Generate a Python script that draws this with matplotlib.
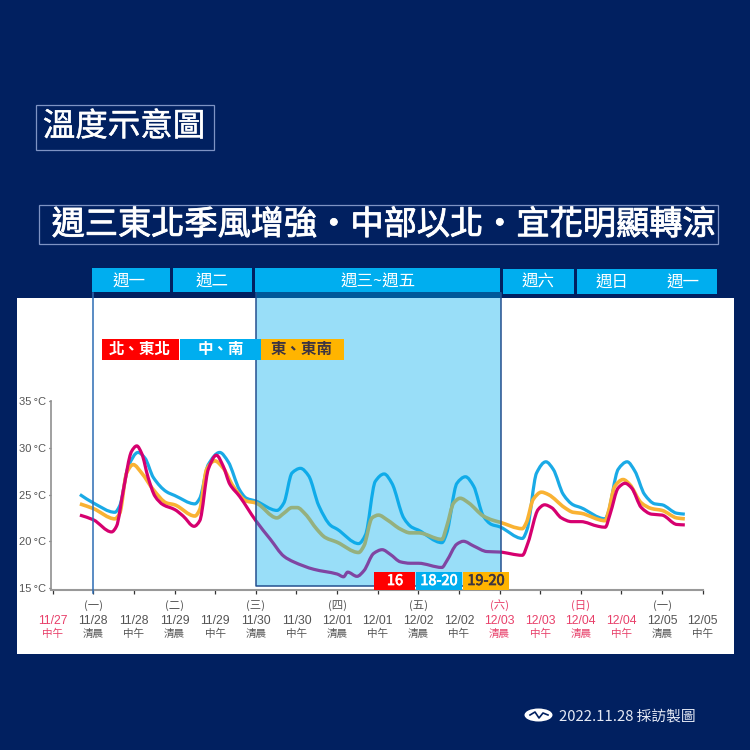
import matplotlib
matplotlib.use("Agg")
import matplotlib.pyplot as plt
import matplotlib.patheffects as pe
from matplotlib.patches import Rectangle, Ellipse, PathPatch
from matplotlib.path import Path

CJK = ['Noto Sans CJK TC', 'DejaVu Sans']
NARROW = ['Liberation Sans Narrow', 'Liberation Sans', 'Noto Sans CJK TC']
plt.rcParams['font.family'] = CJK

# tick labels
tick_days = ['11/27', '11/28', '11/28', '11/29', '11/29', '11/30', '11/30', '12/01', '12/01',
             '12/02', '12/02', '12/03', '12/03', '12/04', '12/04', '12/05', '12/05']
tick_times = ['中午', '清晨', '中午', '清晨', '中午', '清晨', '中午', '清晨', '中午',
              '清晨', '中午', '清晨', '中午', '清晨', '中午', '清晨', '中午']
weekdays = {1: '(一)', 3: '(二)', 5: '(三)', 7: '(四)', 9: '(五)', 11: '(六)', 13: '(日)', 15: '(一)'}
red_ticks = [0, 11, 12, 13, 14]
y_ticks = [15, 20, 25, 30, 35]

# central / south
mid_x = [0.67, 1, 1.53, 1.65, 1.86, 2.1, 2.27, 2.48, 2.8, 3, 3.5, 3.62, 3.83, 4.11, 4.32, 4.6, 4.77, 5,
         5.52, 5.69, 5.89, 6.1, 6.3, 6.55, 6.84, 7, 7.53, 7.7, 7.94, 8.16, 8.35, 8.64, 8.84, 9,
         9.58, 9.7, 9.95, 10.16, 10.36, 10.6, 10.8, 11, 11.56, 11.68, 11.91, 12.14, 12.32, 12.57,
         12.81, 13, 13.6, 13.67, 13.92, 14.14, 14.33, 14.57, 14.82, 15, 15.36, 15.56]
mid_t = [25, 24.1, 23.1, 23.8, 28, 29.5, 28.9, 26.8, 25.3, 24.9, 24, 24.6, 28.2, 29.5, 28.5, 25.5, 24.6, 24.3,
         23.3, 24.1, 27.3, 27.8, 27, 23.8, 21.7, 21.3, 19.75, 20.7, 26.4, 27.2, 26.2, 22.5, 21.5, 21.2,
         19.85, 20.9, 26.2, 26.9, 25.9, 22.7, 21.8, 21.55, 20.3, 21.3, 27.3, 28.5, 27.7, 25,
         23.9, 23.6, 22.4, 23, 27.7, 28.5, 27.5, 25, 24, 23.9, 23, 22.9]

# east / southeast
east_x = [0.67, 1, 1.53, 1.65, 1.82, 1.98, 2.19, 2.48, 2.8, 3, 3.5, 3.62, 3.79, 3.99, 4.2, 4.44, 4.77, 5,
          5.52, 5.69, 5.89, 6.02, 6.22, 6.5, 6.71, 7, 7.53, 7.66, 7.86, 8.02, 8.23, 8.56, 8.8, 9,
          9.58, 9.7, 9.87, 10.03, 10.24, 10.6, 10.8, 11, 11.56, 11.66, 11.83, 12.03, 12.2, 12.6,
          12.81, 13, 13.6, 13.67, 13.84, 14.04, 14.2, 14.49, 14.74, 15, 15.36, 15.56]
east_t = [24, 23.5, 22.4, 23, 27.3, 28.2, 27.3, 25.5, 24.1, 23.9, 22.7, 23.4, 27.7, 28.6, 27.8, 25.9, 24.3, 24.1,
          22.5, 23, 23.6, 23.6, 22.9, 21.3, 20.4, 19.9, 18.8, 19.5, 22.5, 22.8, 22.3, 21.3, 20.9, 20.9,
          20.2, 21.6, 24.1, 24.6, 24.1, 22.7, 22.3, 22.05, 21.35, 22, 24.5, 25.25, 25, 23.6,
          23.1, 23, 22.2, 23, 25.9, 26.6, 26.1, 24.1, 23.5, 23.3, 22.5, 22.4]

# north / northeast
north_x = [0.67, 1, 1.45, 1.57, 1.74, 1.94, 2.07, 2.19, 2.35, 2.52, 2.72, 3, 3.21, 3.48, 3.62, 3.83, 4.03, 4.2,
           4.36, 4.6, 5, 5.36, 5.69, 5.93, 6.43, 7, 7.16, 7.26, 7.49, 7.66, 7.9, 8.11, 8.31, 8.56, 8.8, 9,
           9.58, 9.7, 9.95, 10.11, 10.36, 10.69, 11, 11.56, 11.7, 11.95, 12.11, 12.28, 12.52, 12.77, 13,
           13.43, 13.6, 13.72, 13.92, 14.09, 14.25, 14.49, 14.74, 15, 15.36, 15.56]
north_t = [22.8, 22.3, 21, 21.6, 25.5, 29.6, 30.2, 29.4, 26.8, 24.8, 23.9, 23.4, 22.7, 21.6, 22.2, 27.7, 29.2, 28,
           26.1, 24.8, 22.2, 20.2, 18.4, 17.8, 17, 16.5, 16.2, 16.7, 16.25, 16.85, 18.7, 19.1, 18.6, 17.8, 17.65, 17.65,
           17.2, 17.9, 19.7, 20, 19.5, 18.9, 18.85, 18.5, 19.85, 23.4, 23.9, 23.6, 22.5, 22.1, 22.1,
           21.6, 21.5, 22.9, 25.7, 26.2, 25.7, 23.6, 22.9, 22.8, 21.8, 21.75]

NAVY = '#012060'
BLUE = '#00AEEF'
CURVE_BLUE = '#1AAAE6'
YELLOW = '#F9B233'
MAGENTA = '#D6006F'
RED = '#FF0000'
CHIP_YELLOW = '#FFB400'
GREY = '#555555'
PINK = '#E8406A'

fig = plt.figure(figsize=(7.5, 7.5), dpi=100, facecolor=NAVY)


def px(x, y):
    return x / 750, 1 - y / 750


def box(x0, y0, x1, y1, color, edge='none', lw=0, z=3):
    fig.add_artist(Rectangle(px(x0, y1), (x1 - x0) / 750, (y1 - y0) / 750, transform=fig.transFigure,
                             facecolor=color, edgecolor=edge, linewidth=lw, zorder=z))


def label(x, y, s, size, color='white', weight='normal', family=CJK, ha='center', stroke=0):
    t = fig.text(*px(x, y), s, fontsize=size * 0.72, color=color, fontweight=weight, family=family,
                 ha=ha, va='center', zorder=6)
    if stroke:
        t.set_path_effects([pe.withStroke(linewidth=stroke, foreground=color)])


def curve(x, y):
    # bezier through the read points, flat at local peaks and troughs
    slopes = [(y[i + 1] - y[i]) / (x[i + 1] - x[i]) for i in range(len(x) - 1)]
    m = [slopes[0]]
    for a, b in zip(slopes[:-1], slopes[1:]):
        m.append(0 if a * b <= 0 else 2 * a * b / (a + b))
    m.append(slopes[-1])
    verts = [(x[0], y[0])]
    codes = [Path.MOVETO]
    for i in range(len(x) - 1):
        d = (x[i + 1] - x[i]) / 3
        verts += [(x[i] + d, y[i] + m[i] * d), (x[i + 1] - d, y[i + 1] - m[i + 1] * d), (x[i + 1], y[i + 1])]
        codes += [Path.CURVE4] * 3
    return Path(verts, codes)


# white panel
box(17, 298, 734, 654, 'white', z=-1)

ax = fig.add_axes([50.67 / 750, 1 - 590 / 750, (702.7 - 50.67) / 750, (590 - 401) / 750])
ax.patch.set_visible(False)
ax.set_xlim(-0.05, 16)
ax.set_ylim(14.79, 35)

for xs, ts, c, w, z in [(mid_x, mid_t, CURVE_BLUE, 2.3, 2), (east_x, east_t, YELLOW, 2.6, 2.1),
                        (north_x, north_t, MAGENTA, 2.3, 2.2)]:
    ax.add_patch(PathPatch(curve(xs, ts), facecolor='none', edgecolor=c, lw=w, capstyle='butt',
                           joinstyle='round', zorder=z))

# cold spell shading, runs up over the navy strip
ax.add_patch(Rectangle((5, 15.2), 6.03, 31.45, facecolor=BLUE, alpha=0.4, edgecolor='none',
                       clip_on=False, zorder=3))
ax.plot([5, 5, 11.03, 11.03], [46.6, 15.2, 15.2, 46.6], color='#24508F', lw=1.1, clip_on=False, zorder=3.1)
ax.plot([1, 1], [14.5, 46.6], color='#2C6CB4', lw=1.1, clip_on=False, zorder=3)

ax.spines[['top', 'right']].set_visible(False)
ax.spines['left'].set_color('#999999')
ax.spines['bottom'].set_color('#999999')
ax.spines['left'].set_linewidth(1.3)
ax.spines['bottom'].set_linewidth(1.5)
ax.set_xticks(range(len(tick_days)))
ax.set_xticklabels([])
ax.set_yticks(y_ticks)
ax.set_yticklabels([f'{t}\u2009°C' for t in y_ticks], family=NARROW, fontsize=8, color=GREY)
ax.tick_params(axis='x', length=3, width=0.9, color='#333333')
ax.tick_params(axis='y', length=1.5, width=0.9, color='#333333', pad=1.5)

xt = ax.get_xaxis_transform()
for i, (d, t) in enumerate(zip(tick_days, tick_times)):
    c = PINK if i in red_ticks else GREY
    ax.text(i, -0.165, d, transform=xt, family=NARROW, fontsize=8.8, color=c, ha='center', va='center')
    ax.text(i, -0.234, t, transform=xt, fontsize=7.6, color=c, ha='center', va='center')
    if i in weekdays:
        ax.text(i, -0.081, weekdays[i], transform=xt, fontsize=8.2, color=c, ha='center', va='center')

# week bars
box(92, 268, 169.5, 292, BLUE)
box(172.5, 268, 252, 292, BLUE)
box(255, 268, 500, 292, BLUE)
box(502.5, 269, 574, 293.5, BLUE)
box(577, 269, 716.5, 293.5, BLUE)
for x, y, s in [(129, 281, '週一'), (212, 281, '週二'), (378, 281, '週三~週五'),
                (538, 282.5, '週六'), (612, 282, '週日'), (683, 282, '週一')]:
    label(x, y, s, 16.5)

# area legend chips
box(102, 339, 178.5, 360, RED, z=4)
box(180, 339, 261, 360, BLUE, z=4)
box(261, 339, 344, 360, CHIP_YELLOW, z=4)
label(140, 349, '北、東北', 15.5, weight='bold')
label(221, 349, '中、南', 15.5, weight='bold')
label(302, 349, '東、東南', 15.5, color='#3D3540', weight='bold')

# lowest temps
box(374, 572, 415.5, 590, RED, z=4)
box(416, 572, 462, 590, BLUE, z=4)
box(463, 572, 509, 590, CHIP_YELLOW, z=4)
label(395, 581, '16', 14.5, stroke=0.5)
label(439, 581, '18-20', 14.5, stroke=0.5)
label(486, 581, '19-20', 14.5, color='#3D3540', stroke=0.5)

# titles
box(36, 105, 213.5, 150, NAVY, edge='#7E93C4', lw=0.9)
label(124, 127, '溫度示意圖', 32.5, stroke=0.3)
box(39, 205, 718, 244, NAVY, edge='#7E93C4', lw=0.9)
label(383, 225, '週三東北季風增強・中部以北・宜花明顯轉涼', 33.2, stroke=0.6)

# footer
fig.add_artist(Ellipse(px(538.5, 715), 28 / 750, 13 / 750, transform=fig.transFigure, facecolor='white',
                       edgecolor='none', zorder=4))
fig.add_artist(plt.Line2D([px(530, 0)[0], px(535, 0)[0], px(539, 0)[0], px(543, 0)[0], px(548, 0)[0]],
                          [px(0, 715)[1], px(0, 712)[1], px(0, 718)[1], px(0, 713)[1], px(0, 715)[1]],
                          transform=fig.transFigure, color=NAVY, lw=1.2, zorder=5))
label(559, 717, '2022.11.28 採訪製圖', 14.8, color='#E6EAF5', ha='left', family=['Noto Sans CJK TC'])

fig.savefig('out.png', dpi=100, facecolor=NAVY)
